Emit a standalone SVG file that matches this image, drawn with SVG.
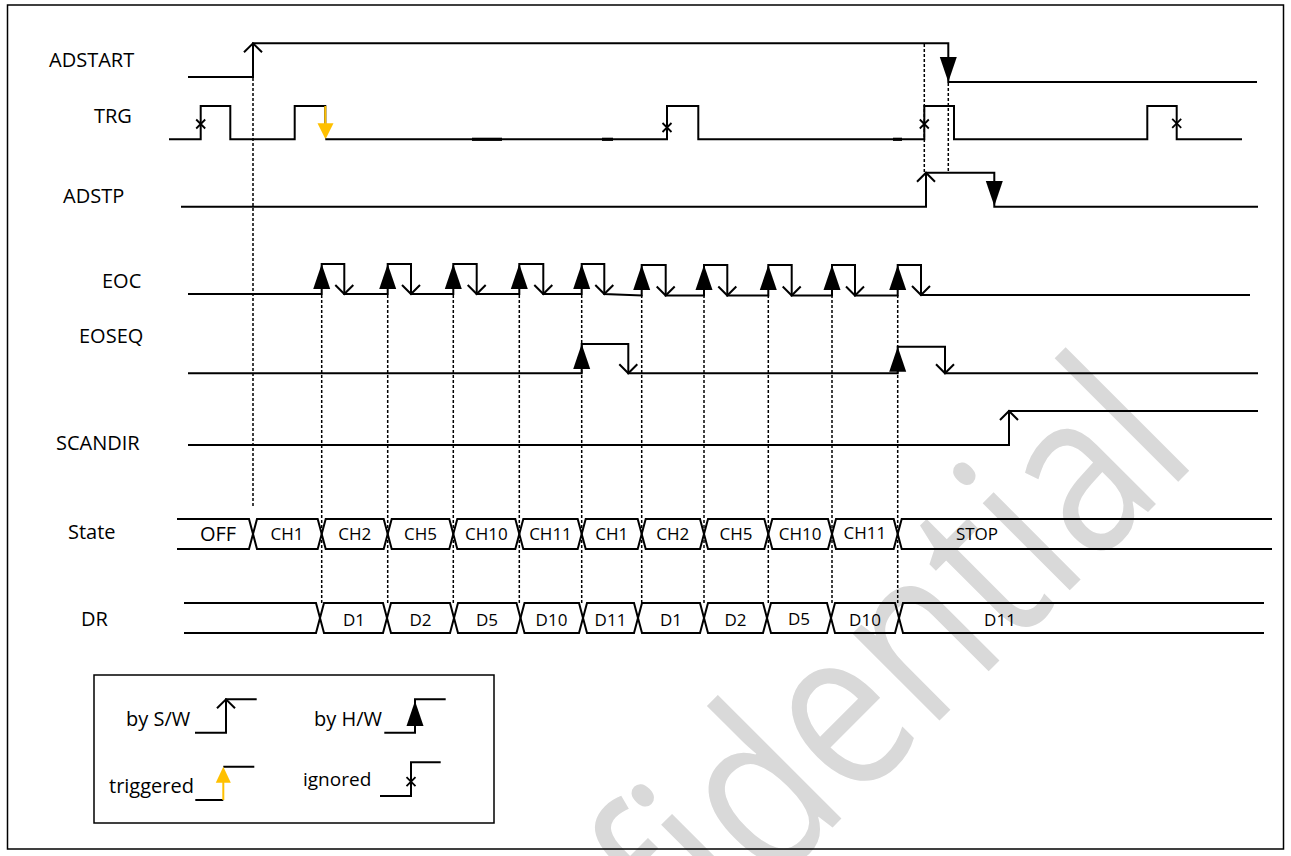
<svg xmlns="http://www.w3.org/2000/svg" xmlns:xlink="http://www.w3.org/1999/xlink" width="1291" height="856" viewBox="0 0 1291 856">
<style>
.sig{fill:none;stroke:#000;stroke-width:2;stroke-linejoin:miter}
.dot{fill:none;stroke:#000;stroke-width:1.5;stroke-dasharray:3 2}
.fa{fill:#000;stroke:none}
.chev{fill:none;stroke:#000;stroke-width:2}
.ign{fill:none;stroke:#000;stroke-width:1.8}
.blip{stroke:#000;stroke-width:3.2}
.txt{font-family:'Open Sans','Noto Sans',sans-serif;fill:#000}
.lbl{font-size:20px}
.st{font-size:17px;text-anchor:middle}
.wm{font-family:'Open Sans','Noto Sans',sans-serif;font-size:230px;fill:#d9d9d9}
</style>
<defs>
<path id="swup" class="chev" d="M-9,9 L0,0 L9,9"/>
<path id="swdn" class="chev" d="M-9,-9 L0,0 L9,-9"/>
<polygon id="hwup" class="fa" points="-8.5,25 8.5,25 0,0"/>
<polygon id="hwdn" class="fa" points="-8.5,-25 8.5,-25 0,0"/>
<path id="ignx" class="ign" d="M-4.5,-4.5 L4.5,4.5 M-4.5,4.5 L4.5,-4.5"/>
<polygon id="trgdn" points="-8,-16 8,-16 0,0" fill="#FFC000"/>
<polygon id="trgup" points="-7.5,16 7.5,16 0,0" fill="#FFC000"/>
</defs>
<rect width="1291" height="856" fill="#fff"/>
<text class="wm" transform="translate(444,1216) rotate(-45)" textLength="1070" lengthAdjust="spacingAndGlyphs">Confidential</text>
<rect x="7.5" y="5" width="1276" height="844" fill="none" stroke="#000" stroke-width="1.5"/>

<g id="labels" class="txt lbl">
<text x="49" y="67">ADSTART</text>
<text x="94" y="123">TRG</text>
<text x="63" y="203">ADSTP</text>
<text x="102" y="288">EOC</text>
<text x="79" y="343">EOSEQ</text>
<text x="56" y="450">SCANDIR</text>
<text x="68" y="539">State</text>
<text x="81" y="626">DR</text>
</g>

<g id="connectors">
<line class="dot" x1="253" y1="78" x2="253" y2="506"/>
<line class="dot" x1="924.3" y1="44" x2="924.3" y2="172"/>
<line class="dot" x1="948.3" y1="83" x2="948.3" y2="172"/>
<line class="dot" x1="321.7" y1="295" x2="321.7" y2="603"/>
<line class="dot" x1="387.7" y1="295" x2="387.7" y2="603"/>
<line class="dot" x1="453.3" y1="295" x2="453.3" y2="603"/>
<line class="dot" x1="519.3" y1="295" x2="519.3" y2="603"/>
<line class="dot" x1="581.7" y1="295" x2="581.7" y2="603"/>
<line class="dot" x1="641.7" y1="295" x2="641.7" y2="603"/>
<line class="dot" x1="704" y1="295" x2="704" y2="603"/>
<line class="dot" x1="768.3" y1="295" x2="768.3" y2="603"/>
<line class="dot" x1="832" y1="295" x2="832" y2="603"/>
<line class="dot" x1="897.7" y1="295" x2="897.7" y2="603"/>
</g>

<g id="adstart">
<path class="sig" d="M188,77 H253 V43.3 H948.3 V82 H1257"/>
<use href="#swup" x="253" y="43.3"/>
<use href="#hwdn" x="948.3" y="82"/>
</g>

<g id="trg">
<path class="sig" d="M169,139.3 H200.7 V106 H230.3 V139.3 H294.7 V106 H325.3 V124"/>
<use href="#trgdn" x="325.5" y="139.3"/>
<line x1="325.3" y1="106" x2="325.3" y2="125" stroke="#FFC000" stroke-width="2"/>
<path class="sig" d="M325.3,139.3 H667 V106 H698.3 V139.3 H924.3 V106 H954 V139.3 H1147.3 V106 H1176.7 V139.3 H1242"/>
<line class="blip" x1="472" y1="139.3" x2="502" y2="139.3"/>
<line class="blip" x1="602" y1="139.3" x2="613" y2="139.3"/>
<line class="blip" x1="893" y1="139.3" x2="902" y2="139.3"/>
<use href="#ignx" x="200.7" y="124"/>
<use href="#ignx" x="667" y="127.5"/>
<use href="#ignx" x="924.3" y="124"/>
<use href="#ignx" x="1176.7" y="123.3"/>
</g>

<g id="adstp">
<path class="sig" d="M181,206.7 H926 V172.7 H994.3 V206.7 H1258"/>
<use href="#swup" x="926" y="172.7"/>
<use href="#hwdn" x="994.3" y="206"/>
</g>

<g id="eoc">
<path class="sig" d="M188,294 H321.7 V264 H344.3 V294 H387.7 V264 H411 V294 H453.3 V264 H476.7 V294 H519.3 V264 H543.3 V294 H581.7 V264 H604.3 V294 L641.7,295.5 V265 H665.7 V295.5 H704 V265 H727.3 V295.5 H768.3 V265 H791.7 V295.5 H832 V265 H855 V295.5 H897.7 V265 H921 V295 H1250"/>
<use href="#hwup" x="321.7" y="264"/><use href="#swdn" x="344.3" y="294"/>
<use href="#hwup" x="387.7" y="264"/><use href="#swdn" x="411" y="294"/>
<use href="#hwup" x="453.3" y="264"/><use href="#swdn" x="476.7" y="294"/>
<use href="#hwup" x="519.3" y="264"/><use href="#swdn" x="543.3" y="294"/>
<use href="#hwup" x="581.7" y="264"/><use href="#swdn" x="604.3" y="294"/>
<use href="#hwup" x="641.7" y="265"/><use href="#swdn" x="665.7" y="295.5"/>
<use href="#hwup" x="704" y="265"/><use href="#swdn" x="727.3" y="295.5"/>
<use href="#hwup" x="768.3" y="265"/><use href="#swdn" x="791.7" y="295.5"/>
<use href="#hwup" x="832" y="265"/><use href="#swdn" x="855" y="295.5"/>
<use href="#hwup" x="897.7" y="265"/><use href="#swdn" x="921" y="295"/>
</g>

<g id="eoseq">
<path class="sig" d="M188,373.3 H581.7 V344 H628.3 V373.3 H897.7 V346.7 H945 V373.3 H1258"/>
<use href="#hwup" x="581.7" y="344"/><use href="#swdn" x="628.3" y="373.3"/>
<use href="#hwup" x="897.7" y="346.7"/><use href="#swdn" x="945" y="373.3"/>
</g>

<g id="scandir">
<path class="sig" d="M188,445 H1009 V411 H1258"/>
<use href="#swup" x="1009" y="411"/>
</g>

<g id="state">
<path class="sig" d="M177,519 H249 L253,534 L249,549 H177"/>
<path class="sig" d="M253,534 L257,519 H317.7 L321.7,534 L317.7,549 H257 Z"/>
<path class="sig" d="M321.7,534 L325.7,519 H383.7 L387.7,534 L383.7,549 H325.7 Z"/>
<path class="sig" d="M387.7,534 L391.7,519 H449.3 L453.3,534 L449.3,549 H391.7 Z"/>
<path class="sig" d="M453.3,534 L457.3,519 H515.3 L519.3,534 L515.3,549 H457.3 Z"/>
<path class="sig" d="M519.3,534 L523.3,519 H577.7 L581.7,534 L577.7,549 H523.3 Z"/>
<path class="sig" d="M581.7,534 L585.7,519 H637.7 L641.7,534 L637.7,549 H585.7 Z"/>
<path class="sig" d="M641.7,534 L645.7,519 H700 L704,534 L700,549 H645.7 Z"/>
<path class="sig" d="M704,534 L708,519 H764.3 L768.3,534 L764.3,549 H708 Z"/>
<path class="sig" d="M768.3,534 L772.3,519 H828 L832,534 L828,549 H772.3 Z"/>
<path class="sig" d="M832,534 L836,519 H893.7 L897.7,534 L893.7,549 H836 Z"/>
<path class="sig" d="M1272,519 H901.7 L897.7,534 L901.7,549 H1272"/>
<g class="txt st">
<text x="218" y="541" style="font-size:20px">OFF</text>
<text x="287" y="540">CH1</text>
<text x="354.7" y="540">CH2</text>
<text x="420.5" y="540">CH5</text>
<text x="486.3" y="540">CH10</text>
<text x="550.5" y="540">CH11</text>
<text x="611.7" y="540">CH1</text>
<text x="672.8" y="540">CH2</text>
<text x="736.1" y="540">CH5</text>
<text x="800.1" y="540">CH10</text>
<text x="864.8" y="539">CH11</text>
<text x="977" y="540">STOP</text>
</g>
</g>

<g id="dr">
<path class="sig" d="M184,603 H316 L320,618 L316,633 H184"/>
<path class="sig" d="M320,618 L324,603 H383 L387,618 L383,633 H324 Z"/>
<path class="sig" d="M387,618 L391,603 H450 L454,618 L450,633 H391 Z"/>
<path class="sig" d="M454,618 L458,603 H516.5 L520.5,618 L516.5,633 H458 Z"/>
<path class="sig" d="M520.5,618 L524.5,603 H579 L583,618 L579,633 H524.5 Z"/>
<path class="sig" d="M583,618 L587,603 H634 L638,618 L634,633 H587 Z"/>
<path class="sig" d="M638,618 L642,603 H700 L704,618 L700,633 H642 Z"/>
<path class="sig" d="M704,618 L708,603 H763 L767,618 L763,633 H708 Z"/>
<path class="sig" d="M767,618 L771,603 H827 L831,618 L827,633 H771 Z"/>
<path class="sig" d="M831,618 L835,603 H895 L899,618 L895,633 H835 Z"/>
<path class="sig" d="M1264,603 H903 L899,618 L903,633 H1264"/>
<g class="txt st">
<text x="354" y="626">D1</text>
<text x="420.5" y="626">D2</text>
<text x="487" y="626">D5</text>
<text x="551.5" y="626">D10</text>
<text x="610.5" y="626">D11</text>
<text x="671" y="626">D1</text>
<text x="735.5" y="626">D2</text>
<text x="799" y="625">D5</text>
<text x="865" y="626">D10</text>
<text x="1000" y="626">D11</text>
</g>
</g>

<g id="legend">
<rect x="94" y="675" width="400" height="148" fill="none" stroke="#000" stroke-width="1.5"/>
<g class="txt lbl">
<text x="126" y="726">by S/W</text>
<text x="314" y="726">by H/W</text>
<text x="109" y="793">triggered</text>
<text x="303" y="786" style="font-size:19px">ignored</text>
</g>
<path class="sig" d="M195,732.7 H226 V699.3 H256.7"/>
<use href="#swup" x="226" y="699.3"/>
<path class="sig" d="M384.3,732.7 H415 V699.3 H445.7"/>
<use href="#hwup" x="415" y="701"/>
<path class="sig" d="M195.3,800 H223.3 M223.3,766.7 H254.3"/>
<line x1="223.3" y1="800" x2="223.3" y2="782" stroke="#FFC000" stroke-width="2"/>
<use href="#trgup" x="223.3" y="766.7"/>
<path class="sig" d="M380,796 H411 V762.3 H440.7"/>
<use href="#ignx" x="411" y="781.7"/>
</g>
</svg>
